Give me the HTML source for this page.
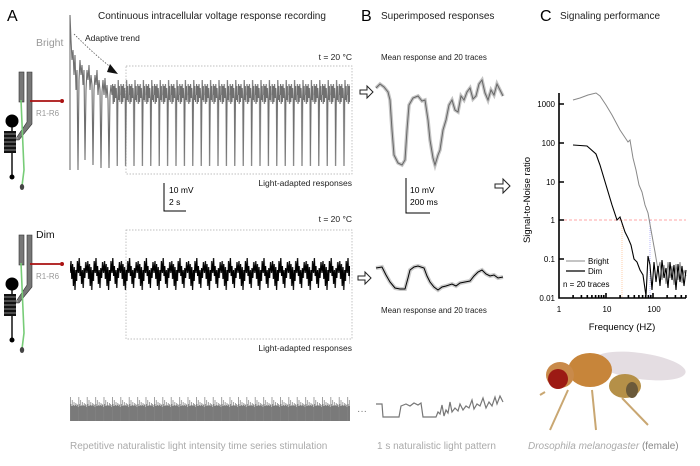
<!DOCTYPE html>
<html><head><meta charset="utf-8"><style>
html,body{margin:0;padding:0;background:#fff;width:700px;height:466px;overflow:hidden}
svg{display:block;font-family:"Liberation Sans",sans-serif}
</style></head><body>
<svg width="700" height="466" viewBox="0 0 700 466" xmlns="http://www.w3.org/2000/svg">
<defs>
<pattern id="pb" patternUnits="userSpaceOnUse" x="112" y="0" width="8.4" height="466">
<path d="M0,95L0.6,84L1.2,104L1.8,86L2.4,102L3,84L3.6,98L4.2,88L4.8,100L5.2,166L5.8,106L6.2,80L6.8,100L7.3,86L7.9,102L8.4,95" fill="none" stroke="#707070" stroke-width="1.1"/>
</pattern>
<pattern id="pd" patternUnits="userSpaceOnUse" x="70" y="0" width="16.8" height="466">
<path d="M0,273L1,261L1.8,279L2.6,264L3.4,286L4.2,267L5,290L5.8,270L6.6,281L7.4,261L8.4,273L9.2,258L10,276L10.8,266L11.6,284L12.4,270L13.2,288L14,268L14.8,278L15.8,262L16.8,273" fill="none" stroke="#000" stroke-width="1.2"/>
</pattern>
<pattern id="ps" patternUnits="userSpaceOnUse" x="70" y="0" width="8.4" height="466">
<path d="M0.4,421V397M1,421V404M1.6,421V406M2.2,421V400M2.8,421V406M3.4,421V405M4,421V402M4.6,421V406M5.2,421V405M5.8,421V403M6.4,421V406M7,421V404M7.6,421V405M8.2,421V407" fill="none" stroke="#7a7a7a" stroke-width="0.7"/>
</pattern>
<g id="cell">
<rect x="19" y="72" width="5" height="30" fill="#777" stroke="#333" stroke-width="0.6"/>
<path d="M27,72h5v52l-13,16h-4l12,-18z" fill="#777" stroke="#333" stroke-width="0.6"/>
<path d="M21,100L24,170L22,186" fill="none" stroke="#7c7" stroke-width="1.6"/>
<line x1="30" y1="101" x2="60" y2="101" stroke="#a11" stroke-width="1.8"/><circle cx="62" cy="101" r="2" fill="#a11"/>
<text x="36" y="116" font-size="8" fill="#999">R1-R6</text>
<circle cx="12" cy="121" r="6.5" fill="#000"/>
<line x1="12" y1="127" x2="12" y2="177" stroke="#000" stroke-width="1.4"/><circle cx="12" cy="177" r="2.5" fill="#000"/>
<rect x="4" y="131" width="12" height="22" fill="#111"/>
<path d="M2,134h16M2,138h16M2,142h16M2,146h16M2,150h16" stroke="#fff" stroke-width="0.6"/>
<ellipse cx="22" cy="187" rx="2.2" ry="3" fill="#444"/>
</g>
</defs>
<g font-size="16"><text x="7" y="21">A</text><text x="361" y="21">B</text><text x="540" y="21">C</text></g>
<g font-size="10" fill="#222">
<text x="98" y="19">Continuous intracellular voltage response recording</text>
<text x="381" y="19">Superimposed responses</text>
<text x="560" y="19">Signaling performance</text>
</g>
<text x="36" y="46" font-size="10.5" fill="#999">Bright</text>
<text x="36" y="238" font-size="10.5" fill="#111">Dim</text>
<text x="85" y="41" font-size="8.5" fill="#222">Adaptive trend</text>
<path d="M74,34 Q95,55 113,69" fill="none" stroke="#555" stroke-width="0.8" stroke-dasharray="1.5,1.5"/>
<polygon points="110,64 118,74 107,72" fill="#111"/>
<g font-size="8.5" fill="#222" text-anchor="end">
<text x="352" y="60">t = 20 °C</text><text x="352" y="222">t = 20 °C</text>
<text x="352" y="186">Light-adapted responses</text><text x="352" y="351">Light-adapted responses</text>
</g>
<g fill="none" stroke="#aaa" stroke-width="0.7" stroke-dasharray="1.5,1.5">
<rect x="126" y="66" width="226" height="108"/><rect x="126" y="230" width="226" height="109"/>
</g>
<path d="M70,170L70,15L71,40L72,60L73,50L74,75L75,55L76,90L77,70L78,170L79,80L80,60L81,75L82,65L83,85L84,70L85,160L86,90L87,70L88,80L89,65L90,90L91,75L92,85L93,165L94,90L95,75L96,85L97,70L98,95L99,80L100,90L101,168L102,92L103,80L104,95L105,78L106,98L107,85L108,100L109,168L110,95L111,85L112,95" fill="none" stroke="#707070" stroke-width="1.1"/>
<rect x="112" y="60" width="238" height="115" fill="url(#pb)"/>
<rect x="70" y="250" width="280" height="48" fill="url(#pd)"/>
<rect x="70" y="394" width="280" height="28" fill="url(#ps)"/>
<path d="M164,183V211H186" fill="none" stroke="#000" stroke-width="1"/>
<g font-size="8.5"><text x="169" y="193">10 mV</text><text x="169" y="205">2 s</text>
<text x="410" y="193">10 mV</text><text x="410" y="205">200 ms</text></g>
<path d="M406,178V213H430" fill="none" stroke="#000" stroke-width="1"/>
<g font-size="8" fill="#222"><text x="381" y="60">Mean response and 20 traces</text><text x="381" y="313">Mean response and 20 traces</text></g>
<g fill="#fff" stroke="#222" stroke-width="1">
<path d="M360,90h7v-4l6,6l-6,6v-4h-7z"/><path d="M358,276h7v-4l6,6l-6,6v-4h-7z"/><path d="M495,184h8v-5l7,7l-7,7v-5h-8z"/>
</g>
<use href="#cell"/>
<use href="#cell" y="163"/>
<g fill="none">
<path d="M376,88L380,84L384,87L388,92L390,100L392,130L394,155L398,163L402,165L405,160L407,130L409,105L413,98L418,96L422,101L425,100L428,120L430,140L433,158L435,165L438,155L440,150L443,130L446,120L449,105L452,100L455,110L458,112L461,96L464,100L467,92L470,88L473,99L476,96L479,84L482,80L485,93L488,100L491,90L494,95L497,84L500,90L503,96" stroke="#c4c4c4" stroke-width="3.5"/>
<path d="M376,88L380,84L384,87L388,92L390,100L392,130L394,155L398,163L402,165L405,160L407,130L409,105L413,98L418,96L422,101L425,100L428,120L430,140L433,158L435,165L438,155L440,150L443,130L446,120L449,105L452,100L455,110L458,112L461,96L464,100L467,92L470,88L473,99L476,96L479,84L482,80L485,93L488,100L491,90L494,95L497,84L500,90L503,96" stroke="#666" stroke-width="1"/>
<path d="M376,268L382,267L386,275L390,282L395,288L400,289L405,289L408,278L410,270L414,267L418,266L424,268L427,276L430,282L434,287L438,290L442,287L446,286L452,284L456,286L460,283L465,282L470,281L474,276L478,272L482,270L486,274L490,276L494,275L498,278L503,277" stroke="#ccc" stroke-width="4"/>
<path d="M376,268L382,267L386,275L390,282L395,288L400,289L405,289L408,278L410,270L414,267L418,266L424,268L427,276L430,282L434,287L438,290L442,287L446,286L452,284L456,286L460,283L465,282L470,281L474,276L478,272L482,270L486,274L490,276L494,275L498,278L503,277" stroke="#000" stroke-width="1"/>
<path d="M376,404L382,404L383,417L399,417L401,406L406,404L410,406L414,403L418,405L421,403L423,417L436,417L438,412L440,414L442,405L444,416L446,410L448,413L450,402L452,412L455,408L458,411L460,404L463,410L466,406L469,408L472,400L474,409L477,404L480,406L483,398L486,408L489,402L492,406L495,397L497,404L500,396L503,402" stroke="#777" stroke-width="1.2"/>
</g>
<text x="357" y="414" font-size="10" fill="#777">···</text>
<g font-size="10" fill="#aaa"><text x="70" y="449">Repetitive naturalistic light intensity time series stimulation</text>
<text x="377" y="449">1 s naturalistic light pattern</text>
<text x="528" y="449"><tspan font-style="italic">Drosophila melanogaster</tspan> <tspan fill="#888">(female)</tspan></text></g>
<line x1="559" y1="220" x2="686" y2="220" stroke="#f88" stroke-width="0.7" stroke-dasharray="3,2"/>
<line x1="622" y1="220" x2="622" y2="298" stroke="#fb8" stroke-width="0.7" stroke-dasharray="1,1"/>
<line x1="650" y1="220" x2="650" y2="298" stroke="#99f" stroke-width="0.7" stroke-dasharray="1,1"/>
<path d="M573,100L580,98L588,95L596,93L600,96L606,105L612,115L620,130L624,136L628,142L630,140L633,158L636,170L639,185L642,192L645,205L648,213L651,230L655,252L658,270L660,262L662,280L664,265L666,284L668,262L670,278L672,266L674,285L676,264L678,280L680,262L682,283L684,270L686,276" fill="none" stroke="#888" stroke-width="1"/>
<path d="M573,145L587,146L596,154L600,165L606,185L612,205L617,220L620,217L625,232L628,238L631,245L634,259L637,262L640,270L643,275L646,296L648,256L650,265L652,290L654,262L656,282L658,266L660,286L662,260L664,278L666,268L668,288L670,262L672,280L674,265L676,290L678,264L680,282L682,266L684,286L686,270" fill="none" stroke="#000" stroke-width="1.1"/>
<path d="M559,93V298H686M559,104h5M559,143h5M559,182h5M559,220h5M559,259h5M559,298h5M559,298v-5M573.1,298v-3M581.4,298v-3M587.3,298v-3M591.9,298v-3M595.6,298v-3M598.7,298v-3M601.4,298v-3M603.8,298v-3M606,298v-5M620.1,298v-3M628.4,298v-3M634.3,298v-3M638.9,298v-3M642.6,298v-3M645.7,298v-3M648.4,298v-3M650.8,298v-3M653,298v-5M667.1,298v-3M675.4,298v-3M681.3,298v-3M685.9,298v-3" fill="none" stroke="#000" stroke-width="1.6"/>
<g font-size="8" text-anchor="end"><text x="555" y="107">1000</text><text x="555" y="146">100</text><text x="555" y="185">10</text><text x="555" y="223">1</text><text x="555" y="262">0.1</text><text x="555" y="301">0.01</text></g>
<g font-size="8" text-anchor="middle"><text x="559" y="312">1</text><text x="607" y="312">10</text><text x="654" y="312">100</text></g>
<text x="622" y="330" font-size="9.5" text-anchor="middle">Frequency (HZ)</text>
<text transform="translate(530,200) rotate(-90)" font-size="9.5" text-anchor="middle">Signal-to-Noise ratio</text>
<line x1="566" y1="261" x2="585" y2="261" stroke="#888"/><line x1="566" y1="271" x2="585" y2="271" stroke="#000" stroke-width="1.3"/>
<g font-size="8"><text x="588" y="264">Bright</text><text x="588" y="274">Dim</text><text x="563" y="287">n = 20 traces</text></g>
<g>
<ellipse cx="640" cy="366" rx="46" ry="13" fill="#e4dde2" transform="rotate(8 640 366)"/>
<ellipse cx="625" cy="386" rx="16" ry="12" fill="#b59048"/>
<ellipse cx="632" cy="390" rx="6" ry="8" fill="#6b5a3a"/>
<ellipse cx="590" cy="370" rx="22" ry="17" fill="#c7853a"/>
<ellipse cx="560" cy="375" rx="14" ry="13" fill="#c98a4a"/>
<ellipse cx="558" cy="379" rx="10" ry="10" fill="#9c1a14"/>
<path d="M568,390L550,430M592,390L596,430M622,398L648,425M545,392L540,395" stroke="#c9a772" stroke-width="2" fill="none"/>
</g>
</svg>
</body></html>
